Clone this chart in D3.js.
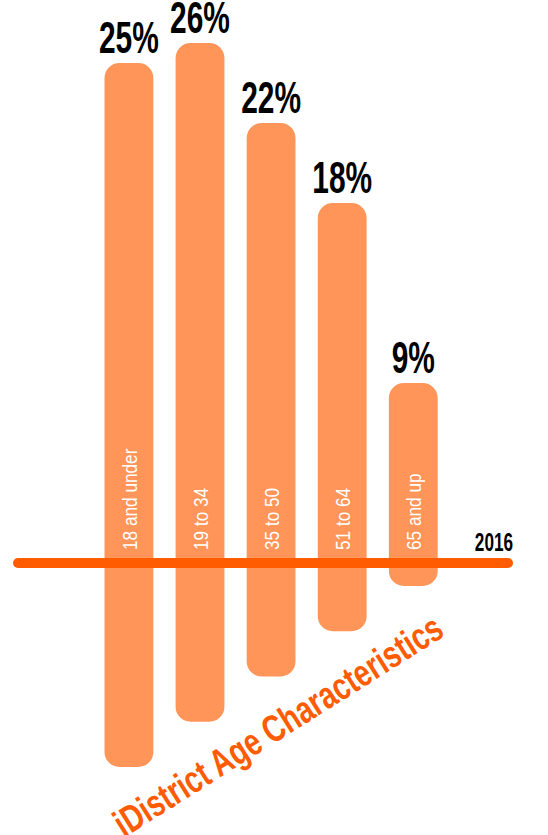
<!DOCTYPE html>
<html>
<head>
<meta charset="utf-8">
<script src="https://cdn.jsdelivr.net/npm/d3@7"></script>
<style>
  html, body { margin: 0; padding: 0; background: #fff; }
  svg { display: block; }
</style>
</head>
<body>
<svg id="chart" width="548" height="835"></svg>
<script>
// ---- data ----
const categories = ["18 and under", "19 to 34", "35 to 50", "51 to 64", "65 and up"];
const values = [25, 26, 22, 18, 9];
const yearLabel = "2016";
const titleText = "iDistrict Age Characteristics";

// ---- layout ----
const W = 548, H = 835;
const baseY = 563;
const barColor = "#FF9559";
const lineColor = "#FF5B00";
const font = "'Liberation Sans', Arial, sans-serif";
const narrow = 0.82; // horizontal squeeze to emulate a condensed face

const svg = d3.select("#chart");

const x = d3.scaleBand()
  .domain(categories)
  .range([104.5, 437.7])
  .paddingInner(0.313)
  .paddingOuter(0);

const y = d3.scaleLinear().domain([0, 25]).range([baseY, 63]);

// decorative stagger of the bar bottoms below the baseline
const bottom = d3.scaleLinear().domain([0, categories.length - 1]).range([767, 586]);

const data = categories.map((c, i) => ({ c, v: values[i], i }));

// bars
svg.append("g").selectAll("rect")
  .data(data)
  .join("rect")
  .attr("x", d => x(d.c))
  .attr("width", x.bandwidth())
  .attr("y", d => y(d.v))
  .attr("height", d => bottom(d.i) - y(d.v))
  .attr("rx", 15)
  .attr("ry", 15)
  .attr("fill", barColor);

// percent labels
svg.append("g").selectAll("g")
  .data(data)
  .join("g")
  .attr("transform", d => `translate(${x(d.c) + x.bandwidth() / 2},${y(d.v) - 10}) scale(0.68,1)`)
  .append("text")
  .attr("text-anchor", "middle")
  .attr("font-family", font)
  .attr("font-weight", "bold")
  .attr("font-size", 44)
  .attr("fill", "#000")
  .text(d => d.v + "%");

// category labels (vertical, inside bars)
svg.append("g").selectAll("text")
  .data(data)
  .join("text")
  .attr("transform", d => `translate(${x(d.c) + x.bandwidth() / 2 + 8},550) rotate(-90) scale(${narrow},1)`)
  .attr("text-anchor", "start")
  .attr("font-family", font)
  .attr("font-size", 21)
  .attr("fill", "#fff")
  .text(d => d.c);

// baseline
svg.append("line")
  .attr("x1", 18).attr("x2", 508)
  .attr("y1", baseY).attr("y2", baseY)
  .attr("stroke", lineColor)
  .attr("stroke-width", 10)
  .attr("stroke-linecap", "round");

// year label
svg.append("g")
  .attr("transform", `translate(513,551) scale(0.66,1)`)
  .append("text")
  .attr("text-anchor", "end")
  .attr("font-family", font)
  .attr("font-weight", "bold")
  .attr("font-size", 26)
  .attr("fill", "#000")
  .text(yearLabel);

// title (diagonal)
svg.append("text")
  .attr("transform", `translate(124,838) rotate(-32.2) scale(0.75,1)`)
  .attr("font-family", font)
  .attr("font-weight", "bold")
  .attr("font-size", 38)
  .attr("fill", lineColor)
  .text(titleText);
</script>
</body>
</html>
